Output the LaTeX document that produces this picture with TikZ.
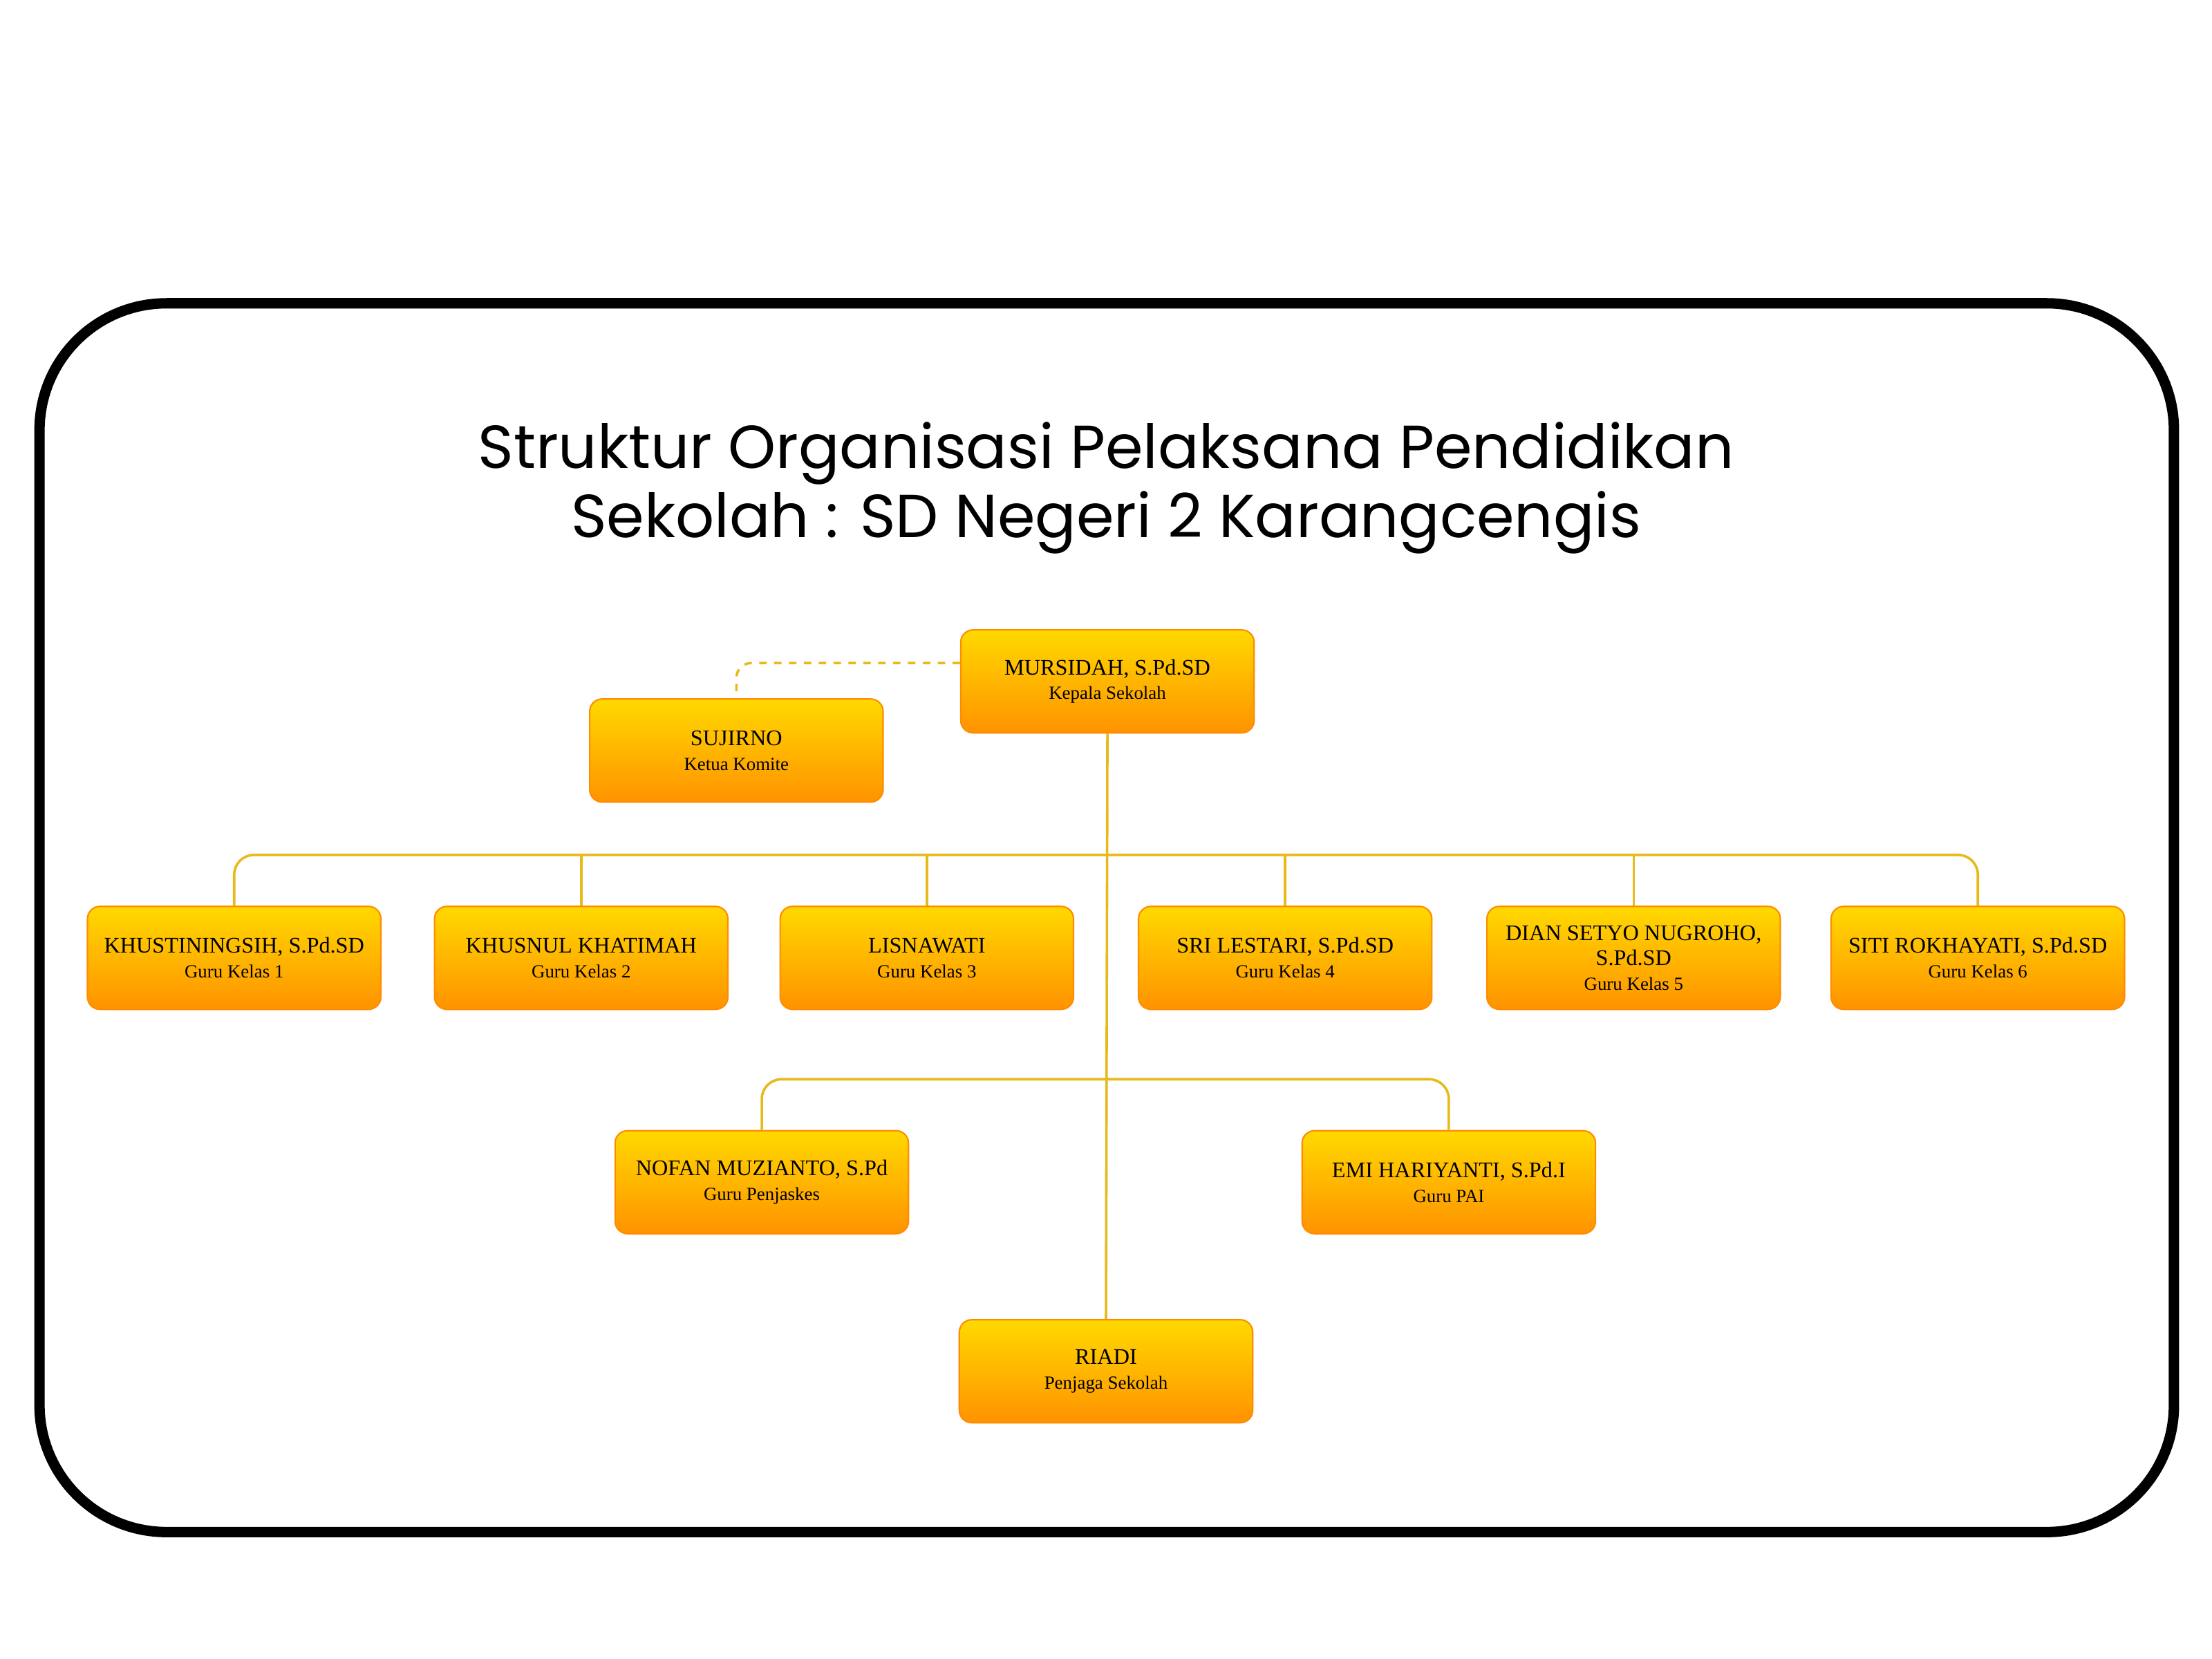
\documentclass[tikz,border=0pt]{standalone}
\usepackage{fontspec}
\setmainfont{Liberation Serif}
\newfontfamily\titlefont{Poppins}
\begin{document}
\begin{tikzpicture}[x=0.02cm,y=-0.02cm,
  box/.style={draw=orange!90!yellow,line width=0.6pt,rounded corners=5pt,top color=yellow!70!orange,bottom color=orange!85!yellow,minimum width=4.16cm,minimum height=1.46cm,align=center,inner sep=1pt,font=\fontsize{9}{10}\selectfont},
  conn/.style={draw=yellow!60!orange!90!black,line width=1pt,rounded corners=8pt}]
\useasboundingbox (0,0) rectangle (1568,1176);
\draw[line width=4.2pt,rounded corners=1.8cm] (28,215) rectangle (1541,1086);
\node[font=\titlefont\fontsize{24.5}{28}\selectfont,align=center] (title) at (784,346) {Struktur Organisasi Pelaksana Pendidikan\\Sekolah : SD Negeri 2 Karangcengis};
\newcommand{\bx}[4]{\node[box] (#1) at #2 {#3\\{\fontsize{7.5}{9}\selectfont #4}};}
\bx{kep}{(785,483)}{MURSIDAH, S.Pd.SD}{Kepala Sekolah}
\bx{kom}{(522,532)}{SUJIRNO}{Ketua Komite}
\bx{g1}{(166,679)}{KHUSTININGSIH, S.Pd.SD}{Guru Kelas 1}
\bx{g2}{(412,679)}{KHUSNUL KHATIMAH}{Guru Kelas 2}
\bx{g3}{(657,679)}{LISNAWATI}{Guru Kelas 3}
\bx{g4}{(911,679)}{SRI LESTARI, S.Pd.SD}{Guru Kelas 4}
\node[box] (g5) at (1158,679) {DIAN SETYO NUGROHO,\\S.Pd.SD\\{\fontsize{7.5}{9}\selectfont Guru Kelas 5}};
\bx{g6}{(1402,679)}{SITI ROKHAYATI, S.Pd.SD}{Guru Kelas 6}
\bx{pj}{(540,838)}{NOFAN MUZIANTO, S.Pd}{Guru Penjaskes}
\bx{pai}{(1027,838)}{EMI HARIYANTI, S.Pd.I}{Guru PAI}
\bx{ri}{(784,972)}{RIADI}{Penjaga Sekolah}
\draw[conn] (kep.south) -- (ri.north);
\draw[conn] (g1.north) |- (g6.north|-0,606) -- (g6.north);
\foreach \n in {g2,g3,g4,g5}{\draw[conn] (\n.north|-0,606) -- (\n.north);}
\draw[conn] (pj.north) |- (pai.north|-0,765) -- (pai.north);
\draw[conn,dashed,rounded corners=6pt] (kep.west|-470,470) -| (kom.north);
\end{tikzpicture}
\end{document}
